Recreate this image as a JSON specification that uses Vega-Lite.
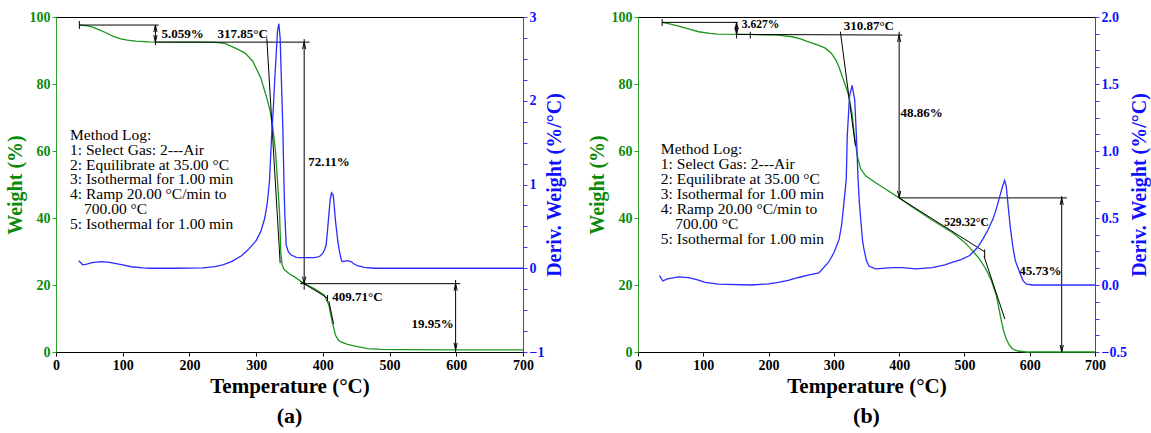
{
  "$schema": "https://vega.github.io/schema/vega-lite/v6.json",
  "padding": {"left": 4, "top": 9, "right": 1, "bottom": 2},
  "background": "white",
  "config": {
    "font": "Liberation Serif",
    "view": {"stroke": "black", "strokeWidth": 1},
    "axis": {"grid": false, "labelFont": "Liberation Serif", "labelFontWeight": "bold", "labelFontSize": 14, "titleFont": "Liberation Serif", "titleFontWeight": "bold", "tickSize": 4, "labelPadding": 2, "labelOverlap": false, "labelFlush": false}
  },
  "spacing": 20,
  "datasets": {
    "wa": [
      {"T":35,"W":97.6},{"T":45,"W":97.4},{"T":55,"W":97.0},{"T":63,"W":96.3},{"T":75,"W":95.3},{"T":85,"W":94.3},{"T":97,"W":93.5},{"T":107,"W":93.1},{"T":120,"W":92.8},{"T":140,"W":92.6},{"T":180,"W":92.5},{"T":218,"W":92.5},{"T":238,"W":92.4},{"T":253,"W":92.1},{"T":268,"W":90.8},{"T":283,"W":89.3},{"T":295,"W":86.8},{"T":307,"W":81.8},{"T":316,"W":75.8},{"T":321,"W":71.9},{"T":325,"W":66.9},{"T":329,"W":60.0},{"T":332,"W":51.0},{"T":335,"W":41.9},{"T":337,"W":29.5},{"T":339,"W":26.0},{"T":342,"W":24.6},{"T":350,"W":23.3},{"T":357,"W":22.5},{"T":372,"W":20.4},{"T":387,"W":18.9},{"T":402,"W":17.0},{"T":409,"W":14.0},{"T":414,"W":9.0},{"T":419,"W":5.0},{"T":423,"W":3.6},{"T":427,"W":3.0},{"T":437,"W":2.3},{"T":447,"W":1.8},{"T":467,"W":1.0},{"T":487,"W":0.8},{"T":520,"W":0.7},{"T":600,"W":0.65},{"T":700,"W":0.65}
    ],
    "da": [
      {"T":34,"D":0.09},{"T":38,"D":0.06},{"T":40,"D":0.04},{"T":46,"D":0.05},{"T":54,"D":0.066},{"T":68,"D":0.08},{"T":80,"D":0.07},{"T":90,"D":0.055},{"T":100,"D":0.04},{"T":113,"D":0.018},{"T":130,"D":0.005},{"T":140,"D":0.0},{"T":180,"D":0.0},{"T":220,"D":0.005},{"T":238,"D":0.02},{"T":250,"D":0.04},{"T":263,"D":0.08},{"T":278,"D":0.15},{"T":288,"D":0.22},{"T":300,"D":0.33},{"T":307,"D":0.44},{"T":313,"D":0.6},{"T":317,"D":0.8},{"T":320,"D":1.04},{"T":323,"D":1.55},{"T":326,"D":1.95},{"T":328,"D":2.27},{"T":332,"D":2.83},{"T":334,"D":2.92},{"T":336,"D":2.75},{"T":337,"D":2.47},{"T":340,"D":1.67},{"T":342,"D":0.92},{"T":343,"D":0.64},{"T":345,"D":0.28},{"T":348,"D":0.2},{"T":352,"D":0.16},{"T":360,"D":0.13},{"T":367,"D":0.126},{"T":387,"D":0.126},{"T":395,"D":0.14},{"T":400,"D":0.18},{"T":403,"D":0.23},{"T":405,"D":0.28},{"T":407,"D":0.45},{"T":409,"D":0.64},{"T":411,"D":0.82},{"T":413,"D":0.9},{"T":415,"D":0.88},{"T":416,"D":0.84},{"T":419,"D":0.56},{"T":422,"D":0.35},{"T":424,"D":0.24},{"T":427,"D":0.12},{"T":429,"D":0.08},{"T":433,"D":0.085},{"T":437,"D":0.09},{"T":442,"D":0.08},{"T":447,"D":0.05},{"T":452,"D":0.03},{"T":462,"D":0.01},{"T":476,"D":0.0},{"T":700,"D":0.0}
    ],
    "sa": [
      {"T":35,"W":97.6,"T2":154,"W2":97.6},
      {"T":35,"W":96.4,"T2":35,"W2":98.8},
      {"T":149,"W":97.6,"T2":149,"W2":91.6},
      {"T":149,"W":92.5,"T2":380,"W2":92.5},
      {"T":316,"W":93.6,"T2":336,"W2":26.5},
      {"T":372,"W":93.4,"T2":372,"W2":18.6},
      {"T":366,"W":20.4,"T2":606,"W2":20.4},
      {"T":366,"W":21.1,"T2":407,"W2":16.1},
      {"T":407,"W":15.2,"T2":407,"W2":17.0},
      {"T":409,"W":15.2,"T2":416,"W2":8.4},
      {"T":599,"W":21.5,"T2":599,"W2":0.0}
    ],
    "aa": [
      {"T":149,"W":97.6,"dir":"up"},{"T":149,"W":92.5,"dir":"down"},
      {"T":372,"W":92.5,"dir":"up"},{"T":372,"W":20.4,"dir":"down"},
      {"T":599,"W":20.4,"dir":"up"},{"T":599,"W":0.65,"dir":"down"}
    ],
    "la": [
      {"T":158,"W":94.9,"label":"5.059%"},
      {"T":242,"W":94.9,"label":"317.85°C"},
      {"T":378,"W":56.7,"label":"72.11%"},
      {"T":414,"W":16.5,"label":"409.71°C"},
      {"T":533,"W":8.5,"label":"19.95%"}
    ],
    "ma": [
      {"T":21,"W":66.8,"label":"Method Log:\n1: Select Gas: 2---Air\n2: Equilibrate at 35.00 °C\n3: Isothermal for 1.00 min\n4: Ramp 20.00 °C/min to"},
      {"T":42,"W":44.8,"label":"700.00 °C"},
      {"T":21,"W":40.4,"label":"5: Isothermal for 1.00 min"}
    ],
    "wb": [
      {"T":37,"W":98.4},{"T":50,"W":97.9},{"T":65,"W":97.1},{"T":80,"W":96.3},{"T":93,"W":95.6},{"T":110,"W":95.1},{"T":122,"W":94.9},{"T":167,"W":94.8},{"T":215,"W":94.6},{"T":236,"W":94.1},{"T":250,"W":93.4},{"T":261,"W":92.6},{"T":275,"W":91.7},{"T":287,"W":90.7},{"T":296,"W":89.2},{"T":303,"W":87.2},{"T":308,"W":85.0},{"T":313,"W":82.2},{"T":320,"W":78.3},{"T":323,"W":76.3},{"T":328,"W":71.0},{"T":331,"W":65.4},{"T":336,"W":58.4},{"T":341,"W":54.7},{"T":349,"W":52.5},{"T":364,"W":50.5},{"T":380,"W":48.5},{"T":400,"W":46.0},{"T":420,"W":43.3},{"T":441,"W":40.6},{"T":462,"W":38.0},{"T":482,"W":35.6},{"T":500,"W":32.8},{"T":513,"W":30.1},{"T":523,"W":27.8},{"T":533,"W":24.7},{"T":541,"W":21.5},{"T":549,"W":16.8},{"T":556,"W":9.8},{"T":560,"W":6.3},{"T":564,"W":3.9},{"T":569,"W":2.0},{"T":574,"W":0.9},{"T":582,"W":0.3},{"T":595,"W":0.0},{"T":700,"W":0.0}
    ],
    "db": [
      {"T":33,"D":0.07},{"T":38,"D":0.03},{"T":45,"D":0.045},{"T":62,"D":0.06},{"T":77,"D":0.055},{"T":90,"D":0.04},{"T":103,"D":0.02},{"T":123,"D":0.006},{"T":174,"D":0.0},{"T":200,"D":0.008},{"T":215,"D":0.02},{"T":230,"D":0.035},{"T":246,"D":0.056},{"T":262,"D":0.075},{"T":277,"D":0.09},{"T":292,"D":0.17},{"T":300,"D":0.24},{"T":308,"D":0.34},{"T":312,"D":0.45},{"T":315,"D":0.59},{"T":319,"D":0.79},{"T":320.5,"D":1.11},{"T":324,"D":1.41},{"T":328,"D":1.49},{"T":332,"D":1.38},{"T":335,"D":1.06},{"T":337,"D":0.8},{"T":339,"D":0.62},{"T":341,"D":0.5},{"T":344,"D":0.33},{"T":346,"D":0.27},{"T":350,"D":0.18},{"T":354,"D":0.14},{"T":364,"D":0.12},{"T":390,"D":0.13},{"T":405,"D":0.13},{"T":426,"D":0.12},{"T":451,"D":0.13},{"T":470,"D":0.15},{"T":482,"D":0.17},{"T":495,"D":0.19},{"T":508,"D":0.22},{"T":520,"D":0.28},{"T":528,"D":0.34},{"T":536,"D":0.41},{"T":543.5,"D":0.49},{"T":549,"D":0.57},{"T":554,"D":0.66},{"T":558,"D":0.73},{"T":561.5,"D":0.78},{"T":564,"D":0.74},{"T":567,"D":0.59},{"T":570,"D":0.44},{"T":574,"D":0.29},{"T":578,"D":0.18},{"T":585,"D":0.09},{"T":590,"D":0.03},{"T":595,"D":0.006},{"T":605,"D":0.0},{"T":700,"D":0.0}
    ],
    "sb": [
      {"T":37,"W":98.4,"T2":153,"W2":98.4},
      {"T":37,"W":97.3,"T2":37,"W2":99.4},
      {"T":151,"W":98.4,"T2":151,"W2":93.6},
      {"T":151,"W":94.8,"T2":405,"W2":94.6},
      {"T":172,"W":93.6,"T2":172,"W2":95.6},
      {"T":310,"W":95.6,"T2":333,"W2":61.5},
      {"T":400,"W":95.6,"T2":400,"W2":46.0},
      {"T":400,"W":46.0,"T2":657,"W2":46.0},
      {"T":400,"W":46.0,"T2":531,"W2":29.9},
      {"T":531,"W":28.1,"T2":531,"W2":30.6},
      {"T":530,"W":28.6,"T2":562,"W2":9.8},
      {"T":649,"W":46.5,"T2":649,"W2":0.0}
    ],
    "ab": [
      {"T":151,"W":98.4,"dir":"up"},{"T":151,"W":94.8,"dir":"down"},
      {"T":400,"W":94.6,"dir":"up"},{"T":400,"W":46.0,"dir":"down"},
      {"T":649,"W":46.0,"dir":"up"},{"T":649,"W":0.0,"dir":"down"}
    ],
    "lb": [
      {"T":315,"W":97.3,"label":"310.87°C"},
      {"T":402,"W":71.3,"label":"48.86%"},
      {"T":584,"W":24.2,"label":"45.73%"}
    ],
    "lbs": [
      {"T":159,"W":97.6,"label":"3.627%"},
      {"T":469,"W":38.4,"label":"529.32°C"}
    ],
    "mb": [
      {"T":35,"W":62.8,"label":"Method Log:\n1: Select Gas: 2---Air\n2: Equilibrate at 35.00 °C\n3: Isothermal for 1.00 min\n4: Ramp 20.00 °C/min to"},
      {"T":57,"W":40.4,"label":"700.00 °C"},
      {"T":35,"W":35.9,"label":"5: Isothermal for 1.00 min"}
    ]
  },
  "hconcat": [
    {
      "width": 467, "height": 335,
      "title": {"text": "(a)", "orient": "bottom", "fontSize": 22, "fontWeight": "bold", "font": "Liberation Serif", "offset": 10, "color": "black"},
      "layer": [
        {
          "layer": [
            {"data": {"name": "wa"}, "mark": {"type": "line", "color": "#1c961c", "strokeWidth": 1.3},
             "encoding": {
               "x": {"field": "T", "type": "quantitative", "scale": {"domain": [0, 700], "nice": false}, "axis": {"title": "Temperature (°C)", "titleFontSize": 21, "titlePadding": 3, "values": [0,25,50,75,100,125,150,175,200,225,250,275,300,325,350,375,400,425,450,475,500,525,550,575,600,625,650,675,700], "labelExpr": "datum.value % 100 === 0 ? datum.label : ''", "domainColor": "black", "tickColor": "black", "labelColor": "black", "titleColor": "black", "format": "d"}},
               "y": {"field": "W", "type": "quantitative", "scale": {"domain": [0, 100], "nice": false}, "axis": {"orient": "left", "title": "Weight (%)", "titleFontSize": 20, "titleColor": "#0a8a0a", "labelColor": "#0a8a0a", "domainColor": "#2aa02a", "tickColor": "#2aa02a", "titlePadding": 4, "values": [0,5,10,15,20,25,30,35,40,45,50,55,60,65,70,75,80,85,90,95,100], "labelExpr": "datum.value % 20 === 0 ? datum.label : ''"}}
             }},
            {"data": {"name": "sa"}, "mark": {"type": "rule", "color": "black", "strokeWidth": 1},
             "encoding": {"x": {"field": "T", "type": "quantitative"}, "x2": {"field": "T2"}, "y": {"field": "W", "type": "quantitative"}, "y2": {"field": "W2"}}},
            {"data": {"name": "aa"}, "mark": {"type": "point", "filled": false, "stroke": "black", "strokeWidth": 1, "size": 16, "opacity": 1},
             "encoding": {"x": {"field": "T", "type": "quantitative"}, "y": {"field": "W", "type": "quantitative"},
               "shape": {"field": "dir", "type": "nominal", "scale": {"domain": ["up", "down"], "range": ["M-0.8,3.5L0,0L0.8,3.5", "M-0.8,-3.5L0,0L0.8,-3.5"]}, "legend": null}}},
            {"data": {"name": "la"}, "mark": {"type": "text", "align": "left", "baseline": "middle", "fontSize": 13, "fontWeight": "bold", "font": "Liberation Serif", "color": "black"},
             "encoding": {"x": {"field": "T", "type": "quantitative"}, "y": {"field": "W", "type": "quantitative"}, "text": {"field": "label"}}},
            {"data": {"name": "ma"}, "mark": {"type": "text", "align": "left", "baseline": "top", "fontSize": 15.5, "lineHeight": 14.7, "lineBreak": "\n", "font": "Liberation Serif", "color": "black"},
             "encoding": {"x": {"field": "T", "type": "quantitative"}, "y": {"field": "W", "type": "quantitative"}, "text": {"field": "label"}}}
          ]
        },
        {"data": {"name": "da"}, "mark": {"type": "line", "color": "#2b2bff", "strokeWidth": 1.3},
         "encoding": {
           "x": {"field": "T", "type": "quantitative"},
           "y": {"field": "D", "type": "quantitative", "scale": {"domain": [-1, 3], "nice": false}, "axis": {"orient": "right", "title": "Deriv. Weight (%/°C)", "titleAngle": 270, "titleBaseline": "top", "titleFontSize": 20, "titleColor": "#1010ff", "labelColor": "#1010ff", "domainColor": "#3a3aff", "tickColor": "#3a3aff", "titlePadding": 1, "values": [-1,-0.75,-0.5,-0.25,0,0.25,0.5,0.75,1,1.25,1.5,1.75,2,2.25,2.5,2.75,3], "labelExpr": "abs(datum.value - round(datum.value)) < 0.001 ? format(datum.value, 'd') : ''"}}
         }}
      ],
      "resolve": {"scale": {"y": "independent"}}
    },
    {
      "width": 457, "height": 335,
      "title": {"text": "(b)", "orient": "bottom", "fontSize": 22, "fontWeight": "bold", "font": "Liberation Serif", "offset": 10, "color": "black"},
      "layer": [
        {
          "layer": [
            {"data": {"name": "wb"}, "mark": {"type": "line", "color": "#1c961c", "strokeWidth": 1.3},
             "encoding": {
               "x": {"field": "T", "type": "quantitative", "scale": {"domain": [0, 700], "nice": false}, "axis": {"title": "Temperature (°C)", "titleFontSize": 21, "titlePadding": 3, "values": [0,25,50,75,100,125,150,175,200,225,250,275,300,325,350,375,400,425,450,475,500,525,550,575,600,625,650,675,700], "labelExpr": "datum.value % 100 === 0 ? datum.label : ''", "domainColor": "black", "tickColor": "black", "labelColor": "black", "titleColor": "black", "format": "d"}},
               "y": {"field": "W", "type": "quantitative", "scale": {"domain": [0, 100], "nice": false}, "axis": {"orient": "left", "title": "Weight (%)", "titleFontSize": 20, "titleColor": "#0a8a0a", "labelColor": "#0a8a0a", "domainColor": "#2aa02a", "tickColor": "#2aa02a", "titlePadding": 4, "values": [0,5,10,15,20,25,30,35,40,45,50,55,60,65,70,75,80,85,90,95,100], "labelExpr": "datum.value % 20 === 0 ? datum.label : ''"}}
             }},
            {"data": {"name": "sb"}, "mark": {"type": "rule", "color": "black", "strokeWidth": 1},
             "encoding": {"x": {"field": "T", "type": "quantitative"}, "x2": {"field": "T2"}, "y": {"field": "W", "type": "quantitative"}, "y2": {"field": "W2"}}},
            {"data": {"name": "ab"}, "mark": {"type": "point", "filled": false, "stroke": "black", "strokeWidth": 1, "size": 16, "opacity": 1},
             "encoding": {"x": {"field": "T", "type": "quantitative"}, "y": {"field": "W", "type": "quantitative"},
               "shape": {"field": "dir", "type": "nominal", "scale": {"domain": ["up", "down"], "range": ["M-0.8,3.5L0,0L0.8,3.5", "M-0.8,-3.5L0,0L0.8,-3.5"]}, "legend": null}}},
            {"data": {"name": "lb"}, "mark": {"type": "text", "align": "left", "baseline": "middle", "fontSize": 13, "fontWeight": "bold", "font": "Liberation Serif", "color": "black"},
             "encoding": {"x": {"field": "T", "type": "quantitative"}, "y": {"field": "W", "type": "quantitative"}, "text": {"field": "label"}}},
            {"data": {"name": "lbs"}, "mark": {"type": "text", "align": "left", "baseline": "middle", "fontSize": 11.5, "fontWeight": "bold", "font": "Liberation Serif", "color": "black"},
             "encoding": {"x": {"field": "T", "type": "quantitative"}, "y": {"field": "W", "type": "quantitative"}, "text": {"field": "label"}}},
            {"data": {"name": "mb"}, "mark": {"type": "text", "align": "left", "baseline": "top", "fontSize": 15.5, "lineHeight": 15, "lineBreak": "\n", "font": "Liberation Serif", "color": "black"},
             "encoding": {"x": {"field": "T", "type": "quantitative"}, "y": {"field": "W", "type": "quantitative"}, "text": {"field": "label"}}}
          ]
        },
        {"data": {"name": "db"}, "mark": {"type": "line", "color": "#2b2bff", "strokeWidth": 1.3},
         "encoding": {
           "x": {"field": "T", "type": "quantitative"},
           "y": {"field": "D", "type": "quantitative", "scale": {"domain": [-0.5, 2], "nice": false}, "axis": {"orient": "right", "title": "Deriv. Weight (%/°C)", "titleAngle": 270, "titleBaseline": "top", "titleFontSize": 20, "titleColor": "#1010ff", "labelColor": "#1010ff", "domainColor": "#3a3aff", "tickColor": "#3a3aff", "titlePadding": 3, "values": [-0.5,-0.375,-0.25,-0.125,0,0.125,0.25,0.375,0.5,0.625,0.75,0.875,1,1.125,1.25,1.375,1.5,1.625,1.75,1.875,2], "labelExpr": "abs(datum.value*2 - round(datum.value*2)) < 0.001 ? format(datum.value, '.1f') : ''"}}
         }}
      ],
      "resolve": {"scale": {"y": "independent"}}
    }
  ]
}
